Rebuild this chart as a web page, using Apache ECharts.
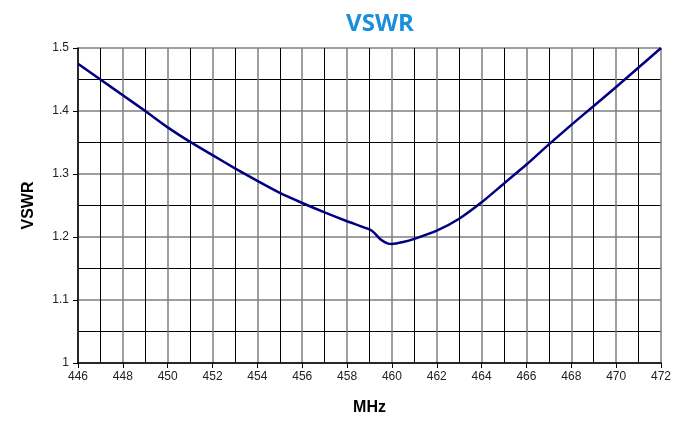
<!DOCTYPE html>
<html>
<head>
<meta charset="utf-8">
<script src="https://cdn.jsdelivr.net/npm/echarts@6/dist/echarts.min.js"></script>
<style>html,body{margin:0;padding:0;background:#fff}#c{width:683px;height:425px}</style>
</head>
<body>
<div id="c"></div>
<script>
const freqMHz = [446, 447, 448, 449, 450, 451, 452, 453, 454, 455, 456, 457, 458, 459, 459.2, 459.5, 459.8, 460, 460.5, 461, 462, 463, 464, 465, 466, 467, 468, 469, 470, 471, 472];
const vswr    = [1.475, 1.45, 1.425, 1.40, 1.374, 1.351, 1.330, 1.309, 1.289, 1.270, 1.254, 1.239, 1.225, 1.212, 1.207, 1.196, 1.190, 1.189, 1.192, 1.197, 1.210, 1.229, 1.255, 1.285, 1.315, 1.347, 1.378, 1.408, 1.438, 1.469, 1.5];
const titleText = 'VSWR';
const xName = 'MHz';
const yName = 'VSWR';

const chart = echarts.init(document.getElementById('c'));
chart.setOption({
  animation: false,
  title: {
    text: titleText, left: 375, top: 7, textAlign: 'center',
    textStyle: { color: '#1a8fdc', fontSize: 24, fontWeight: 'bold', fontFamily: 'Open Sans' }
  },
  grid: { left: 78, right: 22, top: 48, bottom: 62, outerBoundsMode: 'none', containLabel: false },
  xAxis: {
    type: 'value', min: 446, max: 472, interval: 2,
    name: xName, nameLocation: 'middle', nameGap: 37,
    nameTextStyle: { fontSize: 16, fontWeight: 'bold', color: '#000', fontFamily: 'Liberation Sans' },
    axisLine: { lineStyle: { color: '#000', width: 1.5 } },
    axisTick: { show: true, length: 5, lineStyle: { color: '#000' } },
    axisLabel: { fontSize: 12, color: '#222', margin: 8, fontFamily: 'Liberation Sans' },
    splitLine: { show: true, lineStyle: { color: '#7f7f7f', width: 1.5 } },
    minorTick: { show: false, splitNumber: 2 },
    minorSplitLine: { show: true, lineStyle: { color: '#000', width: 1 } }
  },
  yAxis: {
    type: 'value', min: 1, max: 1.5, interval: 0.1,
    name: yName, nameLocation: 'middle', nameGap: 41, nameRotate: 90,
    nameTextStyle: { fontSize: 16, fontWeight: 'bold', color: '#000', fontFamily: 'Liberation Sans' },
    axisLine: { show: true, lineStyle: { color: '#000', width: 1.5 } },
    axisTick: { show: true, length: 5, lineStyle: { color: '#000' } },
    axisLabel: { fontSize: 12, color: '#222', margin: 9, fontFamily: 'Liberation Sans' },
    splitLine: { show: true, lineStyle: { color: '#7f7f7f', width: 1.5 } },
    minorTick: { show: false, splitNumber: 2 },
    minorSplitLine: { show: true, lineStyle: { color: '#000', width: 1 } }
  },
  series: [{
    type: 'line',
    data: freqMHz.map((f, i) => [f, vswr[i]]),
    showSymbol: false,
    smooth: 0.2,
    lineStyle: { color: '#000080', width: 2.5 },
    clip: false
  }]
});
</script>
</body>
</html>
